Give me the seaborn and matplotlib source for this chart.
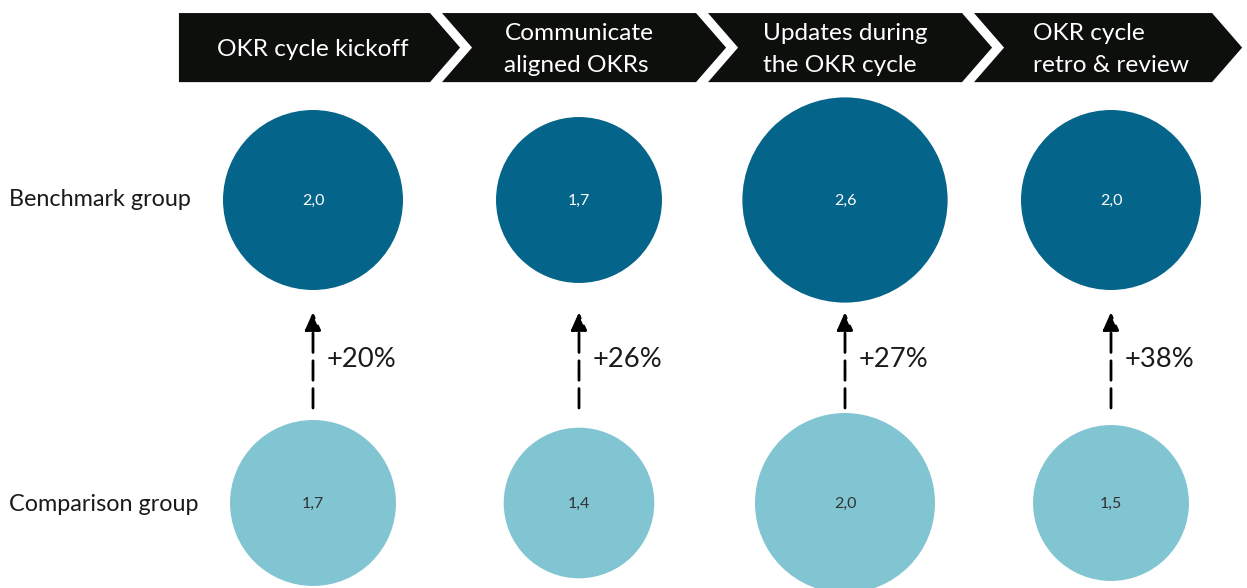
import numpy as np
import pandas as pd
import matplotlib
matplotlib.use("Agg")
import matplotlib.pyplot as plt
import seaborn as sns
from matplotlib.patches import Polygon
import matplotlib.transforms as mtransforms

# ---------------- data ----------------
stages = ["OKR cycle kickoff", "Communicate\naligned OKRs",
          "Updates during\nthe OKR cycle", "OKR cycle\nretro & review"]
groups = ["Benchmark group", "Comparison group"]
benchmark_values = [2.0, 1.7, 2.6, 2.0]
comparison_values = [1.7, 1.4, 2.0, 1.5]
uplift_labels = ["+20%", "+26%", "+27%", "+38%"]

# ---------------- style ----------------
sns.set_theme(style="white")
plt.rcParams["font.family"] = ["Lato", "DejaVu Sans"]

DARK = "#04648A"
LIGHT = "#81C4D2"
CHEVRON = "#0D0F0C"
TEXT = "#1a1a1a"

n = len(stages)
xs = np.arange(n)
row_y = {"Benchmark group": 1.0, "Comparison group": 0.0}

df = pd.DataFrame({
    "stage": np.concatenate([xs, xs]),
    "group": [groups[0]] * n + [groups[1]] * n,
    "value": benchmark_values + comparison_values,
})
df["row"] = df["group"].map(row_y)

fig = plt.figure(figsize=(12.47, 5.88), dpi=100)
ax = fig.add_axes([0, 0, 1, 1])
XLIM = (-313 / 266, (1247 - 313) / 266)
YLIM = (-85 / 303, 1 + 200 / 303)
ax.axis("off")

# bubbles: area proportional to value
k = 8398.0
vmax = df["value"].max()
sns.scatterplot(data=df, x="stage", y="row", hue="group", size="value",
                palette={groups[0]: DARK, groups[1]: LIGHT},
                sizes=(0, k * vmax), size_norm=(0, vmax),
                linewidth=0, legend=False, ax=ax, zorder=2)
ax.set_xlim(*XLIM)
ax.set_ylim(*YLIM)

# value labels in bubbles
for _, r in df.iterrows():
    col = "white" if r["group"] == groups[0] else "#333333"
    ax.text(r["stage"], r["row"] - 0.003, f"{r['value']:.1f}".replace(".", ","),
            ha="center", va="center", fontsize=11.5, color=col, zorder=3)

# row labels
trans = mtransforms.blended_transform_factory(ax.transAxes, ax.transData)
for g in groups:
    off = 0.003 if g == groups[0] else -0.005
    ax.text(9 / 1247, row_y[g] + off, g, transform=trans, ha="left", va="center",
            fontsize=16.8, color=TEXT)

# chevrons
top, bot = 1.617, 1.389
mid = (top + bot) / 2
depth = 0.113
for i in range(n):
    left = i - (0.504 if i == 0 else 0.515)
    right = i + (0.44 if i < n - 1 else 0.38)
    if i == 0:
        pts = [(left, top), (right, top), (right + depth, mid), (right, bot), (left, bot)]
    else:
        pts = [(left, top), (right, top), (right + depth, mid), (right, bot),
               (left, bot), (left + depth, mid)]
    ax.add_patch(Polygon(pts, closed=True, facecolor=CHEVRON, edgecolor="none", zorder=1))
    ax.text(i, mid - 0.006, stages[i], ha="center", va="center", multialignment="left",
            fontsize=17.6, color="white", linespacing=1.62, zorder=2)

# arrows + uplift labels
for i in range(n):
    ax.annotate("", xy=(i, 0.63), xytext=(i, 0.3135),
                arrowprops=dict(arrowstyle="-|>,head_length=0.9,head_width=0.4",
                                color="black", lw=2, linestyle=(0, (7, 3)),
                                shrinkA=0, shrinkB=0), zorder=2)
    ax.text(i + 14 / 266, 0.472, uplift_labels[i], ha="left", va="center",
            fontsize=19.7, color=TEXT)

fig.savefig("out.png", dpi=100)
